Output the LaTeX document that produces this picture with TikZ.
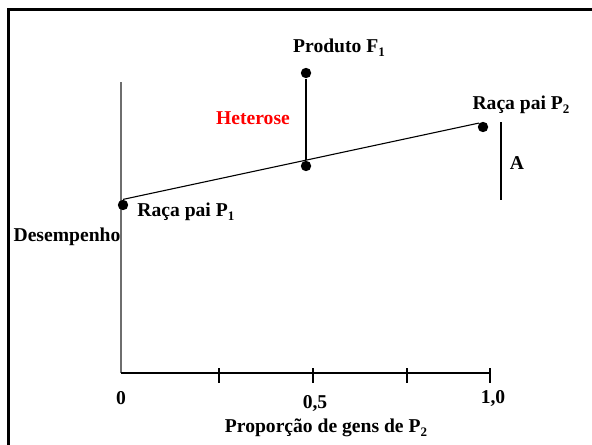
\documentclass[tikz,border=0pt]{standalone}
\usepackage{fontspec}
\setmainfont{Liberation Serif}
\definecolor{hxred}{RGB}{255,0,0}
\definecolor{hxgray}{RGB}{110,110,110}
\newcommand{\hxsub}[1]{\raisebox{-0.45ex}{\fontsize{6.5}{7}\selectfont #1}}
\tikzset{
  hxdot/.style={circle,fill=black,minimum size=5.2pt,inner sep=0pt},
  hxtext/.style={font=\fontsize{9.8}{11}\selectfont\bfseries,inner sep=0pt},
  hxframe/.style={line width=1.5pt,line cap=rect},
  hxaxis/.style={line width=0.55pt},
  hxline/.style={line width=0.55pt}
}

\begin{document}
\begin{tikzpicture}[
  x=0.5pt,y=-0.5pt,
  tick/.style={line width=0.55pt}
]
\useasboundingbox (0,0) rectangle (592,444);
% frame (only top and left edges show)
\draw[hxframe] (8,450) -- (8,10) -- (600,10);
% axes
\coordinate (orig) at (121,373);
\coordinate (ytop) at (121,82);
\coordinate (xend) at (490,373);
\draw[hxaxis,draw=hxgray] (ytop) -- (orig);
\draw[hxaxis] (orig) -- (xend);
\foreach \tx in {219,313,407,490}
  \draw[tick] (\tx,368) -- (\tx,383);
% points
\node[hxdot] (p1) at (123,205) {};
\node[hxdot] (mid) at (306,166) {};
\node[hxdot] (f1) at (306,73) {};
\node[hxdot] (p2) at (483,127) {};
\draw[hxline] (p1.north) -- (p2.north west);
\draw[hxline] (f1) -- (mid);
\coordinate (atop) at (501,122);
\coordinate (abot) at (501,200);
\draw[hxline] (atop) -- (abot);
% labels
\node[hxtext] (lf1) at (339,48) {Produto F\hxsub{1}};
\node[hxtext,text=hxred] (lhet) at (253,118) {Heterose};
\node[hxtext] (lp2) at (521,105) {Raça pai P\hxsub{2}};
\node[hxtext] (la) at (517,163) {A};
\node[hxtext,anchor=west] (lp1) at (137,212) {Raça pai P\hxsub{1}};
\node[hxtext] (ldes) at (67,237) {Desempenho};
\node[hxtext] (l0) at (121,398) {0};
\node[hxtext] (l05) at (315,403) {0,5};
\node[hxtext] (l10) at (493,398) {1,0};
\node[hxtext] (lx) at (326,428) {Proporção de gens de P\hxsub{2}};
\end{tikzpicture}
\end{document}
